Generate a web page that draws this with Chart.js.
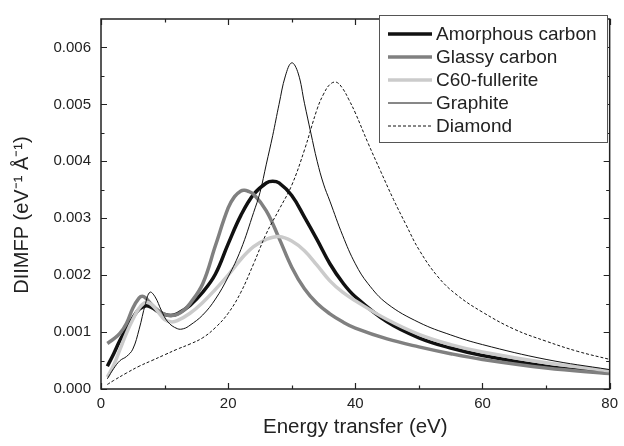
<!DOCTYPE html>
<html>
<head>
<meta charset="utf-8">
<script src="https://cdn.jsdelivr.net/npm/chart.js@4.4.1/dist/chart.umd.min.js"></script>
<style>
html,body{margin:0;padding:0;background:#fff;}
#c{display:block;}
</style>
</head>
<body>
<canvas id="c" width="624" height="446" style="width:624px;height:446px"></canvas>
<script>
// ---- data (values in units of 1e-3 eV^-1 Å^-1) ----
const seriesNames = ['Amorphous carbon', 'Glassy carbon', 'C60-fullerite', 'Graphite', 'Diamond'];

const amorphousE = [1, 2, 3, 4, 5, 6, 7, 8, 9, 10, 11, 12, 14, 16, 18, 20, 22, 24, 26, 27, 28, 30, 32, 34, 36, 38, 40, 45, 50, 55, 60, 70, 80];
const amorphousV = [0.40, 0.62, 0.86, 1.06, 1.25, 1.40, 1.46, 1.43, 1.36, 1.31, 1.29, 1.32, 1.47, 1.70, 2.02, 2.55, 3.05, 3.42, 3.62, 3.65, 3.62, 3.40, 3.02, 2.62, 2.20, 1.87, 1.62, 1.18, 0.90, 0.72, 0.59, 0.40, 0.28];

const glassyE = [1, 2, 3, 4, 5, 6, 6.5, 7, 8, 9, 10, 11, 12, 13, 14, 16, 18, 20, 21, 22, 22.6, 23, 24, 26, 28, 30, 32, 34, 36, 38, 40, 45, 50, 55, 60, 70, 80];
const glassyV = [0.80, 0.88, 0.98, 1.15, 1.42, 1.60, 1.63, 1.60, 1.48, 1.38, 1.31, 1.29, 1.31, 1.38, 1.50, 1.85, 2.52, 3.18, 3.38, 3.48, 3.49, 3.48, 3.42, 3.13, 2.65, 2.14, 1.76, 1.50, 1.32, 1.18, 1.07, 0.88, 0.74, 0.62, 0.52, 0.37, 0.27];

const c60E = [1, 2, 3, 4, 5, 6, 7, 8, 9, 10, 11, 12, 14, 16, 18, 20, 22, 24, 26, 28, 30, 32, 34, 36, 38, 40, 45, 50, 55, 60, 70, 80];
const c60V = [0.21, 0.42, 0.70, 0.98, 1.22, 1.42, 1.52, 1.48, 1.35, 1.22, 1.18, 1.20, 1.33, 1.52, 1.75, 2.00, 2.28, 2.50, 2.63, 2.68, 2.60, 2.43, 2.17, 1.90, 1.70, 1.55, 1.22, 0.96, 0.78, 0.65, 0.46, 0.32];

const graphiteE = [1, 2, 3, 4, 5, 6, 7, 7.7, 8.5, 9.5, 10.5, 12, 13, 14, 16, 18, 20, 22, 24, 25, 26, 27, 28, 29, 30, 31, 32, 33, 34, 35, 36, 38, 40, 42, 45, 50, 55, 60, 70, 80];
const graphiteV = [0.18, 0.36, 0.50, 0.57, 0.70, 1.05, 1.50, 1.70, 1.62, 1.38, 1.18, 1.06, 1.06, 1.12, 1.30, 1.58, 1.97, 2.45, 3.10, 3.45, 3.95, 4.45, 5.00, 5.50, 5.73, 5.55, 5.02, 4.50, 4.00, 3.60, 3.30, 2.70, 2.20, 1.85, 1.50, 1.17, 0.95, 0.78, 0.52, 0.34];

const diamondE = [1, 2, 4, 6, 8, 10, 12, 14, 16, 18, 20, 22, 24, 26, 28, 30, 32, 34, 35, 36, 37, 38, 39, 40, 42, 44, 46, 48, 50, 53, 56, 60, 65, 70, 75, 80];
const diamondV = [0.08, 0.15, 0.28, 0.40, 0.50, 0.60, 0.70, 0.79, 0.90, 1.08, 1.33, 1.70, 2.20, 2.73, 3.15, 3.58, 4.20, 4.92, 5.18, 5.35, 5.39, 5.28, 5.08, 4.85, 4.32, 3.82, 3.33, 2.88, 2.45, 1.97, 1.65, 1.35, 1.05, 0.84, 0.66, 0.52];

const xTicks = [0, 20, 40, 60, 80];
const xMinorTicks = [10, 30, 50, 70];
const yTicks = [0, 0.001, 0.002, 0.003, 0.004, 0.005, 0.006];
const yMinorTicks = [0.0005, 0.0015, 0.0025, 0.0035, 0.0045, 0.0055];

function pts(E, V) { return E.map((e, i) => ({x: e, y: V[i] / 1000})); }

const FONT = "'Liberation Sans', Arial, sans-serif";
const INK = '#222';

const datasets = [
  {label: seriesNames[0], data: pts(amorphousE, amorphousV), borderColor: '#111', borderWidth: 3.5},
  {label: seriesNames[1], data: pts(glassyE, glassyV), borderColor: '#808080', borderWidth: 3.5},
  {label: seriesNames[2], data: pts(c60E, c60V), borderColor: '#cbcbcb', borderWidth: 3.5},
  {label: seriesNames[3], data: pts(graphiteE, graphiteV), borderColor: '#111', borderWidth: 1},
  {label: seriesNames[4], data: pts(diamondE, diamondV), borderColor: '#111', borderWidth: 1, borderDash: [3, 2]}
].map(d => Object.assign({pointRadius: 0, fill: false, tension: 0.4}, d));

datasets.forEach((d, i) => { d.order = 5 - i; });

const frame = {
  id: 'frame',
  afterDatasetsDraw(chart) {
    const {ctx, chartArea: a, scales: {x, y}} = chart;
    ctx.save();
    ctx.strokeStyle = INK;
    ctx.lineWidth = 1.5;
    ctx.strokeRect(a.left, a.top, a.right - a.left, a.bottom - a.top);
    ctx.lineWidth = 1.2;
    const maj = 6, min = 3.5;
    ctx.beginPath();
    const xt = (v, L) => {
      const px = Math.round(x.getPixelForValue(v)) + 0.5;
      ctx.moveTo(px, a.bottom); ctx.lineTo(px, a.bottom - L);
      ctx.moveTo(px, a.top); ctx.lineTo(px, a.top + L);
    };
    const yt = (v, L) => {
      const py = Math.round(y.getPixelForValue(v)) + 0.5;
      ctx.moveTo(a.left, py); ctx.lineTo(a.left + L, py);
      ctx.moveTo(a.right, py); ctx.lineTo(a.right - L, py);
    };
    xTicks.forEach(v => xt(v, maj));
    xMinorTicks.forEach(v => xt(v, min));
    yTicks.forEach(v => yt(v, maj));
    yMinorTicks.forEach(v => yt(v, min));
    ctx.stroke();

    // legend
    const L = {left: 379, top: 15, right: 607, bottom: 142};
    ctx.fillStyle = '#fff';
    ctx.fillRect(L.left, L.top, L.right - L.left, L.bottom - L.top);
    ctx.strokeStyle = '#555';
    ctx.lineWidth = 1;
    ctx.strokeRect(L.left + 0.5, L.top + 0.5, L.right - L.left, L.bottom - L.top);
    const rowY = [34, 57, 80, 103, 126];
    ctx.font = '19px ' + FONT;
    ctx.textBaseline = 'middle';
    ctx.textAlign = 'left';
    chart.data.datasets.forEach((d, i) => {
      ctx.strokeStyle = d.borderColor;
      ctx.lineWidth = d.borderWidth;
      ctx.setLineDash(d.borderDash || []);
      ctx.beginPath();
      ctx.moveTo(388, rowY[i]); ctx.lineTo(432, rowY[i]);
      ctx.stroke();
      ctx.setLineDash([]);
      ctx.fillStyle = INK;
      ctx.fillText(d.label, 436, rowY[i] + 1);
    });
    ctx.restore();
  }
};

new Chart(document.getElementById('c'), {
  type: 'line',
  data: {datasets},
  options: {
    responsive: false,
    animation: false,
    devicePixelRatio: 1,
    layout: {padding: {left: 0, right: 10, top: 8, bottom: 0}},
    plugins: {legend: {display: false}, tooltip: {enabled: false}},
    scales: {
      x: {
        type: 'linear', min: 0, max: 80,
        afterBuildTicks(s) { s.ticks = xTicks.map(v => ({value: v})); },
        afterFit(s) { s.height = 446 - 389; },
        grid: {display: false, drawTicks: false},
        border: {display: false},
        ticks: {padding: 6, color: INK, font: {family: FONT, size: 15}, maxRotation: 0, callback: v => String(v)},
        title: {display: true, text: 'Energy transfer (eV)', color: INK, font: {family: FONT, size: 20.5}, padding: {top: 0, bottom: 6}}
      },
      y: {
        type: 'linear', min: 0, max: 0.0065,
        afterBuildTicks(s) { s.ticks = yTicks.map(v => ({value: v})); },
        afterFit(s) { s.width = 101; },
        grid: {display: false, drawTicks: false},
        border: {display: false},
        ticks: {padding: 10, color: INK, font: {family: FONT, size: 15}, callback: v => v.toFixed(3)},
        title: {display: true, text: 'DIIMFP (eV⁻¹ Å⁻¹)    ', color: INK, font: {family: FONT, size: 20}, padding: {top: 10, bottom: 0}}
      }
    }
  },
  plugins: [frame]
});
</script>
</body>
</html>
